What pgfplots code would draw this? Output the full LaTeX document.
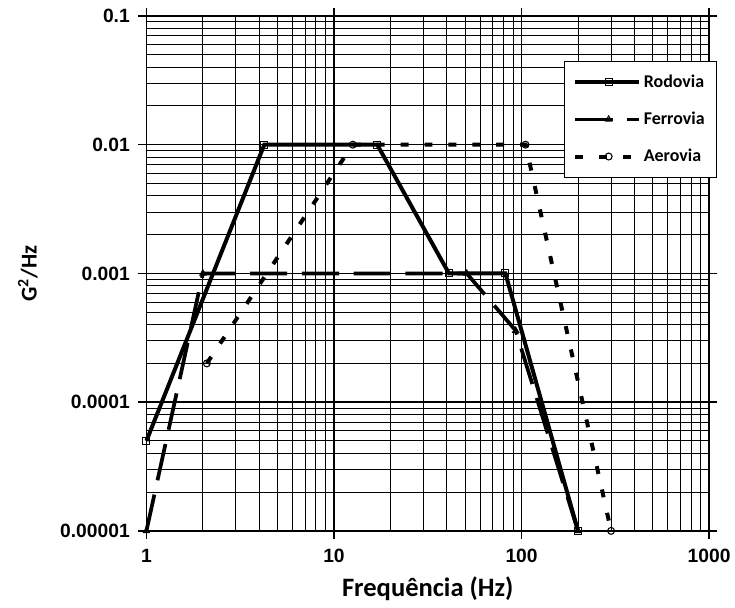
\documentclass[border=0pt]{standalone}
\usepackage{pgfplots}
\pgfplotsset{compat=1.18}
\usepackage{fontspec}
\setmainfont{Carlito}
\newfontfamily\arialf{Liberation Sans}
\begin{document}
\begin{tikzpicture}
\begin{axis}[
  xmode=log, ymode=log,
  scale only axis,
  width=423.75pt, height=387.75pt,
  xmin=1, xmax=1000, ymin=1e-5, ymax=0.1,
  xtick={1,10,100,1000}, xticklabels={1,10,100,1000},
  ytick={1e-5,1e-4,1e-3,1e-2,1e-1},
  yticklabels={0.00001,0.0001,0.001,0.01,0.1},
  tick label style={font=\arialf\bfseries\fontsize{14.5}{15}\selectfont},
  yticklabel style={xshift=-3pt},
  xticklabel style={yshift=-4pt},
  tick align=outside,
  major tick length=6pt, minor tick length=0pt,
  tick style={black, line width=1.2pt},
  grid=both,
  major grid style={black, line width=1.2pt},
  minor grid style={black, line width=0.65pt},
  axis line style={black, line width=1.2pt},
  xlabel={Frequência (Hz)},
  ylabel={G\textsuperscript{2}/Hz},
  xlabel style={font=\bfseries\fontsize{20}{22}\selectfont, yshift=-4pt},
  ylabel style={font=\bfseries\fontsize{17}{19}\selectfont, yshift=10pt},
  legend style={at={(rel axis cs:1.014,0.912)}, anchor=north east,
    draw=black, line width=0.6pt, fill=white,
    font=\bfseries\fontsize{13.5}{14}\selectfont,
    inner xsep=7pt, inner ysep=8pt, row sep=13pt,
    cells={anchor=west}},
  legend image code/.code={\draw[#1,mark=none] (0pt,0pt) -- (48pt,0pt);
     \draw[#1] plot coordinates {(25pt,0pt)};},
  every axis plot/.append style={mark size=2.6pt},
  clip=false,
]
\addplot[black, line width=3pt, mark=square, mark options={solid, fill=white, line width=0.8pt}]
  coordinates {(1,5e-5) (4.25,1e-2) (17,1e-2) (41,1e-3) (82,1e-3) (200,1e-5)};
\addlegendentry{Rodovia}
\addplot[black, line width=2.8pt, dash pattern=on 28pt off 11pt, mark=triangle, mark options={solid, fill=white, line width=0.8pt}]
  coordinates {(1,1e-5) (2,1e-3) (51,1e-3) (93,3.6e-4) (200,1e-5)};
\addlegendentry{Ferrovia}
\addplot[black, line width=3pt, dash pattern=on 6pt off 12pt, mark=o, mark options={solid, fill=white, line width=0.8pt}]
  coordinates {(2.1,2e-4) (12.6,1e-2) (105,1e-2) (300,1e-5)};
\addlegendentry{Aerovia}
\coordinate (O) at (rel axis cs:0,0);
\coordinate (T) at (rel axis cs:1,1);
\end{axis}
\path ([xshift=-110.25pt,yshift=-57.75pt]O) rectangle ([xshift=17.25pt,yshift=12pt]T);
\end{tikzpicture}
\end{document}
